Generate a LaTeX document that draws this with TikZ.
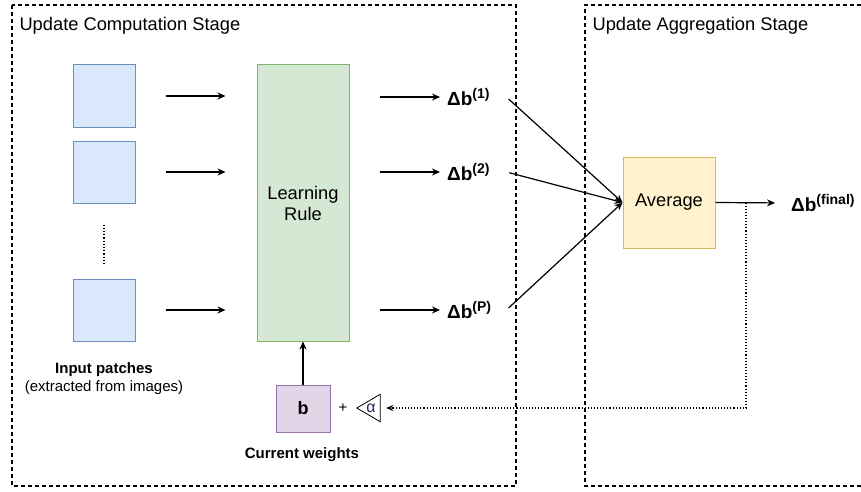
\documentclass[tikz,border=0pt]{standalone}
\usepackage{fontspec}
\setmainfont{Liberation Sans}
\usetikzlibrary{arrows.meta}

\definecolor{patchfill}{HTML}{DAE8FC}\definecolor{patchline}{HTML}{6C8EBF}
\definecolor{rulefill}{HTML}{D5E8D4}\definecolor{ruleline}{HTML}{82B366}
\definecolor{avgfill}{HTML}{FFF2CC}\definecolor{avgline}{HTML}{D6B656}
\definecolor{wfill}{HTML}{E1D5E7}\definecolor{wline}{HTML}{9673A6}
\definecolor{alphacol}{HTML}{1F2A5C}

\newcommand{\dbsup}[1]{\textbf{Δb\raisebox{7.5pt}{\fontsize{14}{14}\selectfont #1}}}

\tikzset{
  stagebox/.style={line width=1.3pt,dash pattern=on 4pt off 3pt},
  patch/.style={draw=patchline,fill=patchfill,line width=1pt,minimum width=62pt,minimum height=62pt,inner sep=0},
  arr/.style={line width=1.2pt,-{Stealth[length=8pt,width=7pt]}},
  dblabel/.style={anchor=west,text width=56pt,align=left,inner sep=3pt,font=\fontsize{19}{21}\selectfont},
  lbl/.style={font=\fontsize{15}{18}\selectfont,align=center}
}

\begin{document}
\begin{tikzpicture}[x=1pt,y=-1pt]
  \useasboundingbox (0,0) rectangle (861,492);
  % stages
  \draw[stagebox] (12,5) rectangle (516,486);
  \draw[stagebox] (861,5) -- (585,5) -- (585,486) -- (861,486);
  \node[anchor=west,font=\fontsize{18.3}{20}\selectfont] (titlecomp) at (16,26) {Update Computation Stage};
  \node[anchor=west,font=\fontsize{18.3}{20}\selectfont] (titleagg) at (589,26) {Update Aggregation Stage};

  % patches and learning rule
  \node[patch] (patch1) at (104,96) {};
  \node[patch] (patch2) at (104,172) {};
  \node[patch] (patchP) at (104,310) {};
  \draw[dotted,line width=1.2pt,shorten <=21pt,shorten >=14pt] (patch2.south) -- (patchP.north);
  \node[lbl] (patchtxt) at (104,379) {\textbf{Input patches}\\(extracted from images)};

  \node[draw=ruleline,fill=rulefill,line width=1pt,minimum width=92pt,minimum height=276pt,inner sep=0,
        font=\fontsize{18.3}{21}\selectfont,align=center] (rule) at (303,203) {Learning\\Rule};

  \node[dblabel] (db1) at (444,97) {\dbsup{(1)}};
  \node[dblabel] (db2) at (444,172) {\dbsup{(2)}};
  \node[dblabel] (dbP) at (444,310) {\dbsup{(P)}};

  \foreach \p/\d in {patch1/db1,patch2/db2,patchP/dbP}{
    \draw[arr,shorten <=30pt,shorten >=31pt] (\p.east) -- (\p.east -| rule.west);
    \draw[arr,shorten <=30pt,shorten >=4pt] (rule.east |- \d.west) -- (\d.west);
  }

  % aggregation
  \node[draw=avgline,fill=avgfill,line width=1pt,minimum width=92pt,minimum height=91pt,inner sep=0,
        font=\fontsize{18.3}{20}\selectfont] (avg) at (669,202.5) {Average};
  \foreach \d in {db1,db2,dbP}
    \draw[arr,shorten <=3pt] (\d.east) -- (avg.west);
  \node[anchor=west,inner sep=3pt,font=\fontsize{19}{21}\selectfont] (dbfinal) at (788,203) {\dbsup{(final)}};
  \draw[arr,shorten >=13pt] (avg.east) -- (dbfinal.west);

  % current weights
  \node[draw=wline,fill=wfill,line width=1pt,minimum width=54pt,minimum height=47pt,inner sep=0,
        font=\bfseries\fontsize{18}{20}\selectfont] (weights) at (303,408.5) {b};
  \draw[arr] (weights.north) -- (rule.south);
  \node[lbl] (plus) at (343,408) {+};
  \node[minimum width=23pt,minimum height=27pt,inner sep=0,text=alphacol,font=\fontsize{16}{18}\selectfont] (tri) at (368.5,408) {\hspace{5pt}α};
  \draw[line width=0.8pt] (tri.west) -- (tri.north east) -- (tri.south east) -- cycle;
  \coordinate (tap) at (746,202.5);
  \draw[dotted,line width=1.1pt,-{Stealth[length=7pt,width=6pt]},shorten >=6pt] (tap) |- (tri.east);
  \node[lbl] (wtxt) at (302,455) {\textbf{Current weights}};
\end{tikzpicture}
\end{document}
